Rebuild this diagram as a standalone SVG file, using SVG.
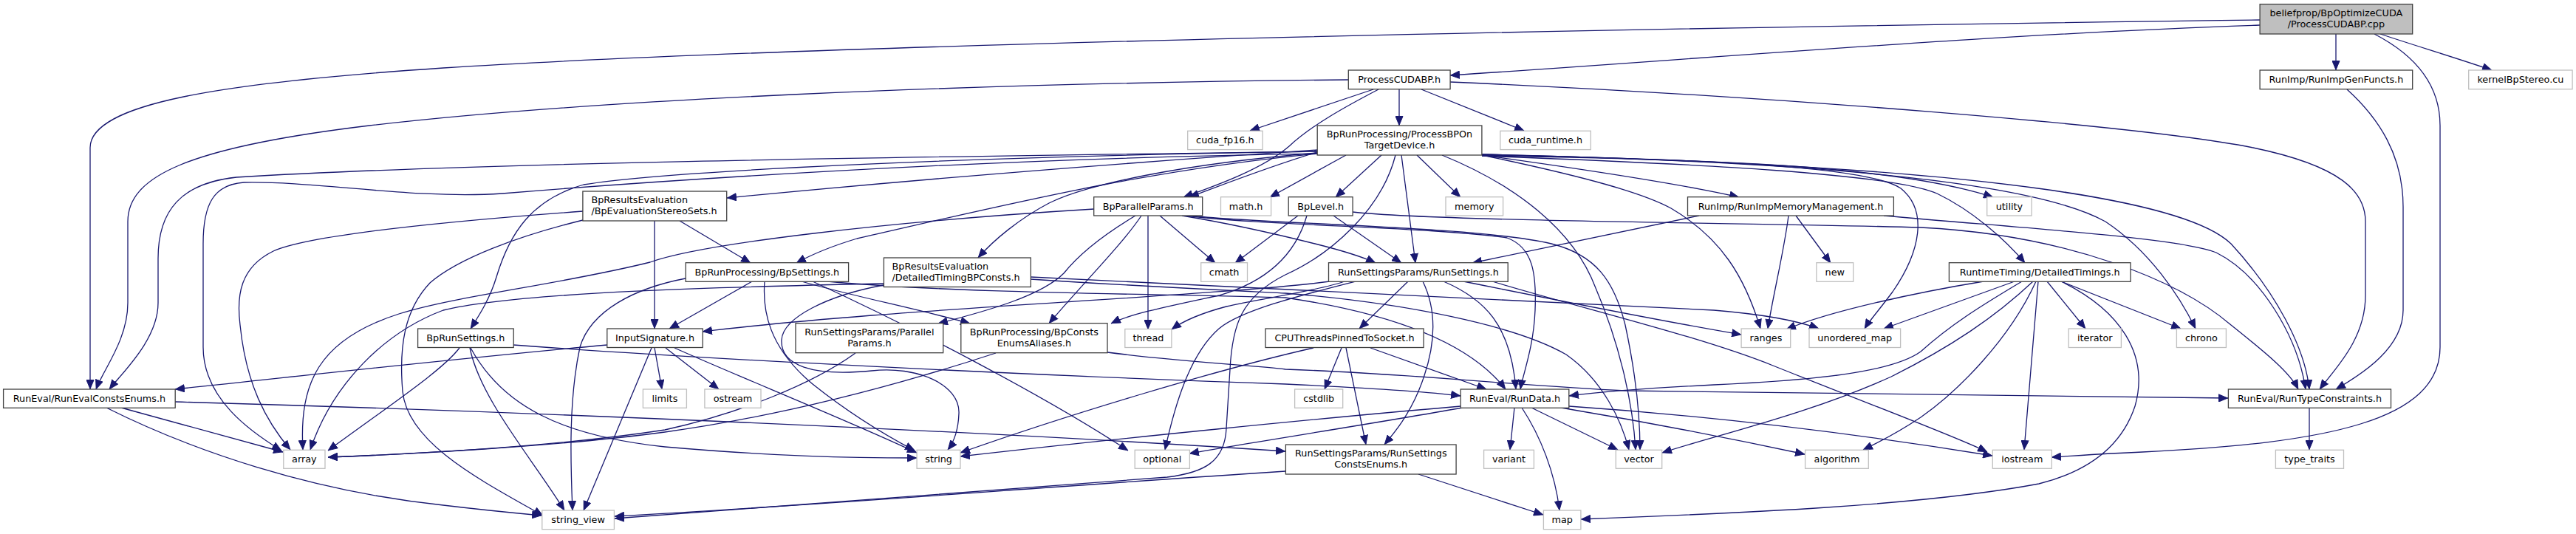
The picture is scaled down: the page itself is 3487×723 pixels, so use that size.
<svg xmlns="http://www.w3.org/2000/svg" width="3487" height="723" viewBox="0 0 3487 723">
<defs>
<style>
.n rect{fill:#fff;stroke:#404040;stroke-width:1.3}
.x rect{fill:#fff;stroke:#bfbfbf;stroke-width:1.3}
.r rect{fill:#bfbfbf;stroke:#404040;stroke-width:1.3}
text{font-family:"DejaVu Sans","Liberation Sans",sans-serif;font-size:12.8px;fill:#000000;text-anchor:middle}
text.l{text-anchor:start}
#edges path{fill:none;stroke:#191970;stroke-width:1.3;marker-end:url(#ah)}
</style>
<marker id="ah" viewBox="0 0 13 11" refX="13" refY="5.5" markerWidth="13" markerHeight="11" markerUnits="userSpaceOnUse" orient="auto"><path d="M0.5,0.5 L12.5,5.5 L0.5,10.5 z" fill="#191970" stroke="#191970" stroke-width="1"/></marker>
</defs>
<rect width="3487" height="723" fill="#fff"/>
<g id="edges">
<path d="M3059,34 C2700,46 2300,80 1963,102"/>
<path d="M3162,46 L3162,95"/>
<path d="M3222,46 C3270,62 3330,80 3373,95"/>
<path d="M3214,46 C3270,75 3303,115 3303,170 L3303,470 C3303,570 3150,600 2900,612 C2850,614 2810,617 2777,619"/>
<path d="M3059,27 C2200,38 1100,60 600,92 C300,112 122,140 122,200 L122,527"/>
<path d="M1825,108 C1300,113 800,135 500,170 C250,200 173,240 173,300 L173,410 C173,460 140,500 130,527"/>
<path d="M1783,205 C1200,213 650,220 320,240 C245,248 214,285 214,350 L214,410 C214,460 165,505 148,527"/>
<path d="M1783,208 C1300,215 850,248 680,262 C560,270 430,245 330,247 C290,250 275,275 275,330 L275,470 C275,540 340,585 381,610"/>
<path d="M789,286 C600,300 420,318 370,340 C325,362 320,400 325,440 C333,520 360,570 393,609"/>
<path d="M164,552 L383,612"/>
<path d="M144,552 C260,610 420,665 600,684 C650,690 690,694 733,698"/>
<path d="M237,544 C700,557 1300,582 1740,611"/>
<path d="M822,467 C600,487 400,510 237,527"/>
<path d="M1894,121 L1894,170"/>
<path d="M1924,121 L2063,177"/>
<path d="M1859,121 L1692,177"/>
<path d="M1866,121 C1820,145 1775,170 1745,198 C1710,228 1650,250 1602,267"/>
<path d="M1783,206 C1720,225 1660,248 1610,267"/>
<path d="M1822,210 L1719,267"/>
<path d="M1870,210 L1808,267"/>
<path d="M1918,210 L1977,267"/>
<path d="M1897,210 L1916,356"/>
<path d="M1783,203 C1500,222 1200,247 984,268"/>
<path d="M1783,208 C1550,230 1350,280 1160,323 C1120,335 1098,345 1078,356"/>
<path d="M1783,207 C1600,222 1470,250 1420,275 C1380,296 1345,325 1324,349"/>
<path d="M2006,210 C2150,230 2280,250 2354,267"/>
<path d="M2006,211 C2300,216 2560,222 2698,267"/>
<path d="M2006,211 C2300,222 2560,235 2622,262 C2670,285 2715,325 2741,356"/>
<path d="M2006,210 C2300,215 2530,225 2573,255 C2610,285 2600,340 2562,395 C2545,418 2530,435 2524,445"/>
<path d="M2006,209 C2500,220 2760,250 2850,300 C2910,340 2950,400 2972,445"/>
<path d="M2006,209 C2600,222 2950,262 3020,330 C3080,395 3120,470 3126,527"/>
<path d="M1783,205 C1300,212 900,232 790,250 C720,270 690,315 672,375 C663,405 648,428 637,445"/>
<path d="M1952,210 C2050,250 2130,310 2160,390 C2190,460 2210,540 2214,609"/>
<path d="M1889,210 C1870,285 1800,345 1740,372 C1680,402 1668,440 1665,500 L1660,580 C1658,625 1630,640 1580,646 C1300,667 1000,690 832,702"/>
<path d="M2006,210 C2150,240 2225,262 2262,282 C2330,322 2362,375 2383,445"/>
<path d="M920,299 L1016,356"/>
<path d="M886,299 L886,445"/>
<path d="M789,298 C700,320 620,350 582,383 C547,420 540,470 545,530 C552,600 650,650 735,698"/>
<path d="M1537,292 C1490,320 1460,345 1440,370 C1410,400 1340,420 1270,438"/>
<path d="M1545,292 C1520,330 1460,390 1420,438"/>
<path d="M1554,292 L1554,446"/>
<path d="M1570,292 L1645,356"/>
<path d="M1600,292 C1680,305 1740,320 1780,330 C1820,340 1845,348 1862,356"/>
<path d="M1605,292 C1700,305 1950,308 2040,322 C2075,335 2080,370 2078,420 C2076,470 2062,505 2058,527"/>
<path d="M1481,283 C1200,300 950,330 880,355 C760,385 620,400 540,425 C430,460 405,520 410,609"/>
<path d="M1612,292 C1700,303 2000,306 2100,330 C2160,345 2185,380 2200,440 C2215,510 2220,570 2220,609"/>
<path d="M1757,292 L1672,356"/>
<path d="M1805,292 L1897,356"/>
<path d="M1769,292 C1755,340 1720,380 1650,400 C1580,415 1530,425 1504,438"/>
<path d="M1831,287 C1950,300 2400,302 2600,308 C2800,318 2950,380 3020,440 C3070,480 3100,505 3111,527"/>
<path d="M2300,292 L1993,356"/>
<path d="M2431,292 L2478,356"/>
<path d="M2421,292 C2415,340 2400,400 2393,445"/>
<path d="M2550,292 C2750,310 2950,322 3000,342 C3060,372 3110,455 3121,527"/>
<path d="M1018,381 L906,445"/>
<path d="M1085,381 C1150,400 1250,420 1313,438"/>
<path d="M928,377 C860,390 800,420 785,470 C770,540 772,620 775,691"/>
<path d="M1035,381 C1032,420 1040,470 1100,520 C1150,560 1200,590 1238,610"/>
<path d="M1120,381 C1300,398 1600,398 1740,403 C1890,425 1990,465 2038,527"/>
<path d="M1100,381 C1250,450 1420,540 1527,610"/>
<path d="M1196,384 C1000,388 700,395 600,420 C520,450 450,520 420,609"/>
<path d="M1196,386 C1120,400 1060,430 1058,460 C1056,495 1100,510 1180,502 C1240,495 1300,520 1298,560 C1297,585 1290,600 1283,609"/>
<path d="M1395,375 C1800,395 2200,415 2320,420 C2380,425 2430,433 2462,445"/>
<path d="M1395,378 C1550,388 1680,394 1740,397 C1900,410 2050,440 2120,480 C2170,515 2195,570 2205,609"/>
<path d="M1800,381 C1700,395 1400,410 1180,427 C1080,435 1000,443 951,449"/>
<path d="M1906,381 L1840,445"/>
<path d="M1926,381 C1945,420 1945,470 1920,530 C1905,565 1888,585 1874,602"/>
<path d="M1954,381 C2010,405 2045,440 2052,527"/>
<path d="M1820,381 C1780,395 1700,405 1660,415 C1630,423 1605,432 1586,446"/>
<path d="M1835,381 C1760,400 1680,420 1650,445 C1610,480 1590,550 1577,609"/>
<path d="M1981,381 C2150,415 2280,440 2357,453"/>
<path d="M2020,381 C2150,420 2300,455 2400,495 C2550,555 2650,592 2690,612"/>
<path d="M2685,381 C2600,395 2480,420 2418,446"/>
<path d="M2727,381 L2550,445"/>
<path d="M2771,381 L2823,445"/>
<path d="M2790,381 C2850,405 2910,428 2952,445"/>
<path d="M2737,381 C2680,415 2640,440 2600,476 C2560,505 2450,515 2320,521 C2240,525 2170,530 2124,536"/>
<path d="M2752,381 C2700,430 2640,470 2560,510 C2450,560 2320,590 2250,613"/>
<path d="M2756,381 C2720,460 2650,530 2600,565 C2570,585 2545,598 2522,609"/>
<path d="M2759,381 L2740,609"/>
<path d="M2790,381 C2870,420 2910,480 2890,550 C2870,610 2820,640 2760,655 C2600,685 2350,695 2140,703"/>
<path d="M622,471 C600,500 540,540 444,610"/>
<path d="M637,471 C680,550 760,590 900,605 C1050,618 1150,620 1241,620"/>
<path d="M636,471 C650,540 720,620 764,691"/>
<path d="M695,467 C1000,490 1500,512 1740,520 C1850,525 1930,530 1977,536"/>
<path d="M886,471 L896,527"/>
<path d="M901,471 L973,527"/>
<path d="M882,471 L790,691"/>
<path d="M913,471 C1000,510 1150,570 1241,613"/>
<path d="M1816,471 L1793,527"/>
<path d="M1822,471 L1849,602"/>
<path d="M1855,471 L2012,527"/>
<path d="M1778,471 C1650,500 1450,560 1300,613"/>
<path d="M1977,550 C1800,565 1500,595 1300,618"/>
<path d="M1980,552 C1850,575 1700,598 1610,614"/>
<path d="M2050,552 L2044,609"/>
<path d="M2073,552 L2190,609"/>
<path d="M2060,552 C2085,590 2105,640 2111,691"/>
<path d="M2113,552 C2250,575 2350,595 2443,615"/>
<path d="M2124,550 C2300,562 2500,585 2697,617"/>
<path d="M1740,638 C1400,660 1100,685 832,699"/>
<path d="M1920,642 L2089,697"/>
<path d="M3126,552 L3126,609"/>
<path d="M1158,478 C1100,520 1000,560 900,582 C750,605 550,615 444,619"/>
<path d="M1348,478 C1250,510 1080,560 900,585 C750,605 550,615 444,619"/>
<path d="M1499,477 C1600,490 1700,495 1740,500 C1900,505 2050,522 2200,529 C2500,535 2800,538 3016,539"/>
<path d="M3177,121 C3220,160 3253,210 3253,280 L3253,420 C3253,470 3200,505 3162,527"/>
<path d="M1963,111 C2400,130 2900,170 3050,200 C3170,225 3202,260 3202,300 L3202,400 C3202,460 3160,500 3140,527"/>
</g>
<g id="n_cpp" class="r"><rect x="3059.1" y="5.7" width="206.6" height="40.3"/><text x="3162.4" y="21.9">beliefprop/BpOptimizeCUDA</text><text x="3162.4" y="36.9">/ProcessCUDABP.cpp</text></g>
<g id="n_pch" class="n"><rect x="1825.3" y="95" width="137.8" height="25.7"/><text x="1894.2" y="112.3">ProcessCUDABP.h</text></g>
<g id="n_rigf" class="n"><rect x="3059.1" y="95" width="206.6" height="25.7"/><text x="3162.4" y="112.3">RunImp/RunImpGenFuncts.h</text></g>
<g id="n_kbs" class="x"><rect x="3341.7" y="95" width="140.4" height="25.7"/><text x="3411.9" y="112.3">kernelBpStereo.cu</text></g>
<g id="n_pbotd" class="n"><rect x="1783.2" y="170" width="222.7" height="40"/><text x="1894.5" y="186.2">BpRunProcessing/ProcessBPOn</text><text x="1894.5" y="201.2">TargetDevice.h</text></g>
<g id="n_cf16" class="x"><rect x="1607.7" y="177.3" width="101.4" height="25.3"/><text x="1658.4" y="194.3">cuda_fp16.h</text></g>
<g id="n_crt" class="x"><rect x="2030.8" y="177.3" width="122.5" height="25.3"/><text x="2092" y="194.3">cuda_runtime.h</text></g>
<g id="n_bes" class="n"><rect x="788.9" y="259" width="194.8" height="40"/><text class="l" x="800.4" y="275.2">BpResultsEvaluation</text><text class="l" x="800.4" y="290.2">/BpEvaluationStereoSets.h</text></g>
<g id="n_bpp" class="n"><rect x="1480.7" y="266.7" width="147" height="25.3"/><text x="1554.2" y="283.7">BpParallelParams.h</text></g>
<g id="n_math" class="x"><rect x="1652.5" y="266.7" width="68.1" height="25.3"/><text x="1686.6" y="283.7">math.h</text></g>
<g id="n_bpl" class="n"><rect x="1744.2" y="266.7" width="86.9" height="25.3"/><text x="1787.7" y="283.7">BpLevel.h</text></g>
<g id="n_mem" class="x"><rect x="1957" y="266.7" width="77.6" height="25.3"/><text x="1995.8" y="283.7">memory</text></g>
<g id="n_rimm" class="n"><rect x="2284.5" y="266.7" width="278.9" height="25.3"/><text x="2424" y="283.7">RunImp/RunImpMemoryManagement.h</text></g>
<g id="n_util" class="x"><rect x="2689.7" y="266.7" width="60.4" height="25.3"/><text x="2719.9" y="283.7">utility</text></g>
<g id="n_dtbc" class="n"><rect x="1196.4" y="349" width="198.9" height="39.5"/><text class="l" x="1207.5" y="365">BpResultsEvaluation</text><text class="l" x="1207.5" y="380">/DetailedTimingBPConsts.h</text></g>
<g id="n_bps" class="n"><rect x="928.2" y="355.7" width="220.4" height="25.6"/><text x="1038.4" y="372.7">BpRunProcessing/BpSettings.h</text></g>
<g id="n_cmath" class="x"><rect x="1625.7" y="355.7" width="62.8" height="25.6"/><text x="1657.1" y="372.7">cmath</text></g>
<g id="n_rs" class="n"><rect x="1798.5" y="355.7" width="242.7" height="25.6"/><text x="1919.9" y="372.7">RunSettingsParams/RunSettings.h</text></g>
<g id="n_new" class="x"><rect x="2458.9" y="355.7" width="49.8" height="25.6"/><text x="2483.8" y="372.7">new</text></g>
<g id="n_dt" class="n"><rect x="2638.4" y="355.7" width="245.6" height="25.6"/><text x="2761.2" y="372.7">RuntimeTiming/DetailedTimings.h</text></g>
<g id="n_pp" class="n"><rect x="1077" y="437.7" width="199.7" height="40"/><text x="1176.9" y="453.9">RunSettingsParams/Parallel</text><text x="1176.9" y="468.9">Params.h</text></g>
<g id="n_bcea" class="n"><rect x="1300.8" y="437.7" width="198.2" height="40"/><text x="1399.9" y="453.9">BpRunProcessing/BpConsts</text><text x="1399.9" y="468.9">EnumsAliases.h</text></g>
<g id="n_brs" class="n"><rect x="565.6" y="445" width="129.6" height="25.5"/><text x="630.4" y="462">BpRunSettings.h</text></g>
<g id="n_ins" class="n"><rect x="821.8" y="445" width="129.4" height="25.5"/><text x="886.5" y="462">InputSignature.h</text></g>
<g id="n_thr" class="x"><rect x="1522.8" y="445.5" width="63.1" height="25"/><text x="1554.4" y="462">thread</text></g>
<g id="n_cpu" class="n"><rect x="1713" y="445" width="214.1" height="25.5"/><text x="1820" y="462">CPUThreadsPinnedToSocket.h</text></g>
<g id="n_ranges" class="x"><rect x="2357.1" y="445" width="66.6" height="25.5"/><text x="2390.4" y="462">ranges</text></g>
<g id="n_umap" class="x"><rect x="2449" y="445" width="123.6" height="25.5"/><text x="2510.8" y="462">unordered_map</text></g>
<g id="n_iter" class="x"><rect x="2800.2" y="445" width="71.2" height="25.5"/><text x="2835.8" y="462">iterator</text></g>
<g id="n_chrono" class="x"><rect x="2946.4" y="445" width="67" height="25.5"/><text x="2979.9" y="462">chrono</text></g>
<g id="n_rec" class="n"><rect x="4.6" y="527" width="232.6" height="25.3"/><text x="120.9" y="544">RunEval/RunEvalConstsEnums.h</text></g>
<g id="n_limits" class="x"><rect x="870.4" y="527" width="59" height="25.3"/><text x="899.9" y="544">limits</text></g>
<g id="n_ostream" class="x"><rect x="953.9" y="527" width="76.1" height="25.3"/><text x="992" y="544">ostream</text></g>
<g id="n_cstdlib" class="x"><rect x="1752.6" y="527" width="65.1" height="25.3"/><text x="1785.2" y="544">cstdlib</text></g>
<g id="n_rd" class="n"><rect x="1977.2" y="527" width="146.6" height="25.3"/><text x="2050.5" y="544">RunEval/RunData.h</text></g>
<g id="n_rtc" class="n"><rect x="3016.4" y="527" width="220.1" height="25.3"/><text x="3126.5" y="544">RunEval/RunTypeConstraints.h</text></g>
<g id="n_rsce" class="n"><rect x="1740.4" y="602" width="230.7" height="40"/><text x="1855.8" y="618.2">RunSettingsParams/RunSettings</text><text x="1855.8" y="633.2">ConstsEnums.h</text></g>
<g id="n_array" class="x"><rect x="383.8" y="609.3" width="56.2" height="25"/><text x="411.9" y="626">array</text></g>
<g id="n_string" class="x"><rect x="1241.1" y="609.3" width="58.9" height="25"/><text x="1270.6" y="626">string</text></g>
<g id="n_opt" class="x"><rect x="1536.2" y="609.3" width="74.2" height="25"/><text x="1573.3" y="626">optional</text></g>
<g id="n_variant" class="x"><rect x="2008.6" y="609.3" width="67.8" height="25"/><text x="2042.5" y="626">variant</text></g>
<g id="n_vector" class="x"><rect x="2187.3" y="609.3" width="62.4" height="25"/><text x="2218.5" y="626">vector</text></g>
<g id="n_algo" class="x"><rect x="2443.6" y="609.3" width="85.7" height="25"/><text x="2486.5" y="626">algorithm</text></g>
<g id="n_ios" class="x"><rect x="2697.3" y="609.3" width="80" height="25"/><text x="2737.3" y="626">iostream</text></g>
<g id="n_tt" class="x"><rect x="3080.4" y="609.3" width="92.1" height="25"/><text x="3126.5" y="626">type_traits</text></g>
<g id="n_sv" class="x"><rect x="733.8" y="691" width="97.6" height="25.7"/><text x="782.6" y="708.2">string_view</text></g>
<g id="n_map" class="x"><rect x="2089.4" y="691" width="50.5" height="25.7"/><text x="2114.7" y="708.2">map</text></g>
</svg>
